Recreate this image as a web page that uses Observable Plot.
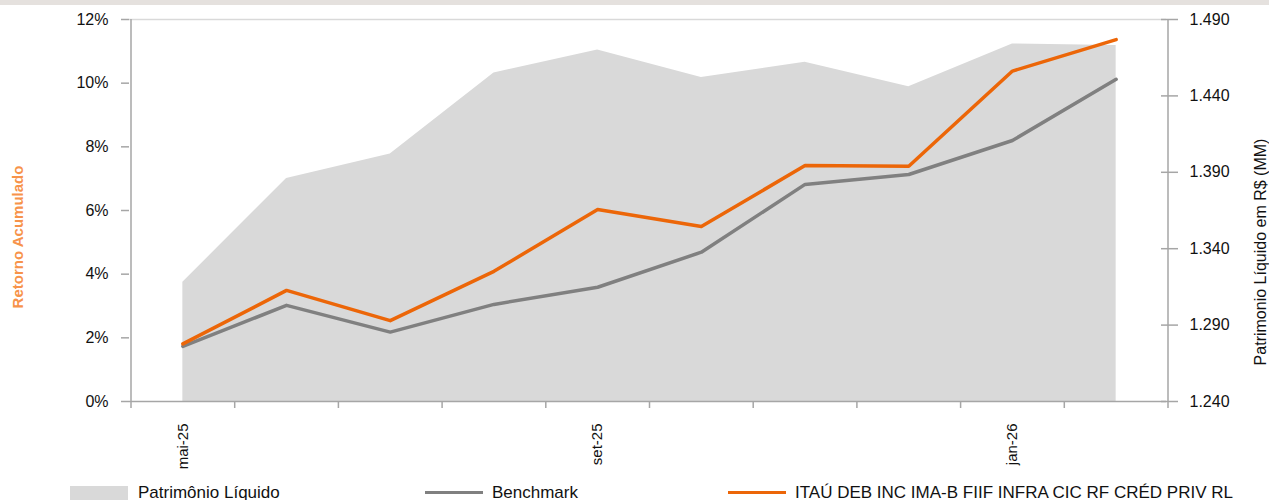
<!DOCTYPE html>
<html>
<head>
<meta charset="utf-8">
<script src="https://cdn.jsdelivr.net/npm/d3@7"></script>
<script src="https://cdn.jsdelivr.net/npm/@observablehq/plot@0.6"></script>
<style>
  html, body { margin: 0; padding: 0; background: #fff; }
  body { width: 1269px; height: 500px; position: relative; overflow: hidden; font-family: "Liberation Sans", Arial, sans-serif; }
  #band { position: absolute; left: 0; top: 0; width: 1269px; height: 5px; background: #e5e1de; }
  #chart { position: absolute; left: 0; top: 0; }
  .ytitle { position: absolute; white-space: nowrap; transform: translate(-50%, -50%) rotate(-90deg); }
  .leg { position: absolute; top: 484px; font-size: 17px; line-height: 17px; color: #111; white-space: nowrap; }
  .sw { position: absolute; }
</style>
</head>
<body>
<div id="band"></div>
<div id="chart"></div>
<div class="ytitle" style="left:16.5px; top:237px; color:#f7934a; font-weight:bold; font-size:15px;">Retorno Acumulado</div>
<div class="ytitle" style="left:1261px; top:252px; color:#111; font-size:16px;">Patrimonio Líquido em R$ (MM)</div>
<div class="sw" style="left:70px; top:486px; width:58px; height:16px; background:#d9d9d9;"></div>
<div class="leg" style="left:138px;">Patrimônio Líquido</div>
<div class="sw" style="left:425px; top:491px; width:58px; height:3px; background:#808080;"></div>
<div class="leg" style="left:492px;">Benchmark</div>
<div class="sw" style="left:728px; top:491px; width:58px; height:3px; background:#ec6608;"></div>
<div class="leg" style="left:795px;">ITAÚ DEB INC IMA-B FIIF INFRA CIC RF CRÉD PRIV RL</div>
<script>
const months = ["mai-25","jun-25","jul-25","ago-25","set-25","out-25","nov-25","dez-25","jan-26","fev-26"];
const fundo = [1.81, 3.49, 2.54, 4.09, 6.03, 5.50, 7.41, 7.39, 10.38, 11.37];
const benchmark = [1.73, 3.02, 2.18, 3.05, 3.59, 4.69, 6.82, 7.13, 8.20, 10.12];
const patrimonio = [1318, 1386, 1402, 1455, 1470, 1452, 1462, 1446, 1474, 1473];
const leftTicks = [0, 2, 4, 6, 8, 10, 12];
const rightTicks = [1240, 1290, 1340, 1390, 1440, 1490];
const shownLabels = ["mai-25", "set-25", "jan-26"];

const plMin = rightTicks[0], plMax = rightTicks[rightTicks.length - 1];
const yMax = leftTicks[leftTicks.length - 1];
const plToY = v => (v - plMin) / (plMax - plMin) * yMax;
const yToPl = y => plMin + y / yMax * (plMax - plMin);
const ptBR = d3.formatLocale({decimal: ",", thousands: ".", grouping: [3], currency: ["R$", ""]});
const fmtPl = ptBR.format(",d");

const rows = months.map((m, i) => ({i, m, fundo: fundo[i], bench: benchmark[i], pl: plToY(patrimonio[i])}));
const boundaries = d3.range(months.length + 1).map(k => k - 0.5);
const labelIdx = shownLabels.map(l => months.indexOf(l));

const axisGray = "#a6a6a6";
const chart = Plot.plot({
  width: 1269,
  height: 480,
  marginLeft: 129,
  marginRight: 103,
  marginTop: 19,
  marginBottom: 79,
  style: {fontFamily: "Liberation Sans, Arial, sans-serif", fontSize: "16px", color: "#111", background: "transparent"},
  x: {domain: [-0.5, months.length - 0.5], range: [130.5, 1167.5], axis: null, label: null},
  y: {domain: [0, yMax], axis: null, label: null},
  marks: [
    Plot.areaY(rows, {x: "i", y: "pl", fill: "#d9d9d9"}),
    Plot.ruleY([yMax], {stroke: "#d9d9d9", strokeWidth: 1.5}),
    Plot.lineY(rows, {x: "i", y: "bench", stroke: "#808080", strokeWidth: 3.5}),
    Plot.lineY(rows, {x: "i", y: "fundo", stroke: "#ec6608", strokeWidth: 3.5}),
    Plot.ruleX([-0.5, months.length - 0.5], {stroke: axisGray, strokeWidth: 1.5}),
    Plot.ruleY([0], {stroke: axisGray, strokeWidth: 1.5}),
    Plot.axisY(leftTicks, {anchor: "left", label: null, tickSize: 8, tickPadding: 13, stroke: axisGray, strokeWidth: 1.5, fill: "#111", fontSize: 16, tickFormat: d => d + "%"}),
    Plot.axisY(rightTicks.map(plToY), {anchor: "right", label: null, tickSize: 17, dx: -6, tickPadding: 12, stroke: axisGray, strokeWidth: 1.5, fill: "#111", fontSize: 16, tickFormat: d => fmtPl(Math.round(yToPl(d)))}),
    Plot.axisX(boundaries, {anchor: "bottom", label: null, tickSize: 7, stroke: axisGray, strokeWidth: 1.5, tickFormat: () => ""}),
    Plot.axisX(labelIdx, {anchor: "bottom", label: null, tickSize: 0, tickPadding: 22, tickRotate: -90, fill: "#111", fontSize: 15, tickFormat: i => months[i]})
  ]
});
document.getElementById("chart").appendChild(chart);
</script>
</body>
</html>
